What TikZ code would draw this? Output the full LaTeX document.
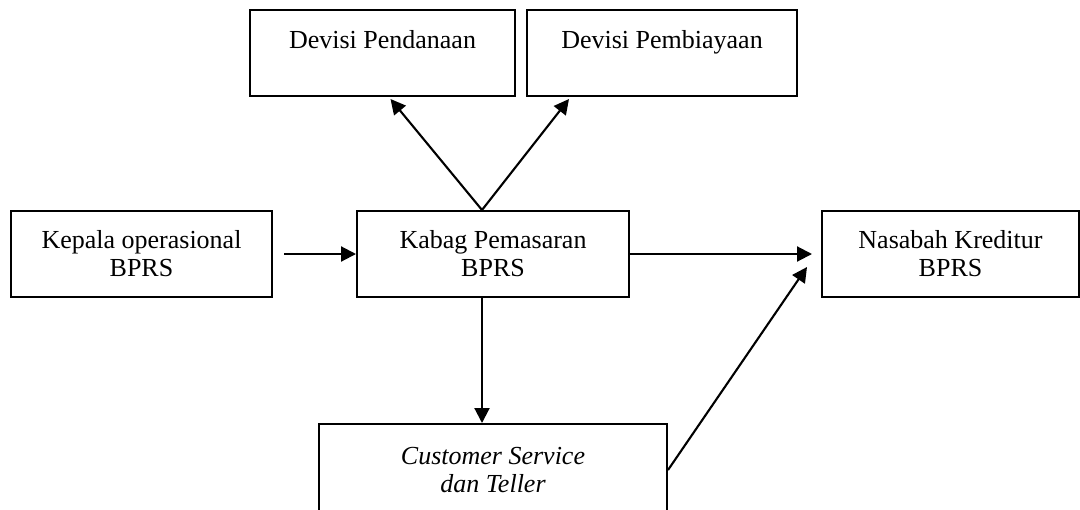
\documentclass[tikz,border=0pt]{standalone}
\usepackage{fontspec}
\setmainfont{Liberation Serif}
\usetikzlibrary{calc}
\usetikzlibrary{arrows.meta}

\begin{document}
\begin{tikzpicture}[x=0.5pt, y=-0.5pt,
        box/.style={draw, line width=1pt, align=center, inner sep=0pt,
            minimum height=43pt, font=\fontsize{13}{14}\selectfont},
        link/.style={line width=1.05pt, -{Triangle[length=7.5pt,width=7.5pt]}}]
        \useasboundingbox (0,0) rectangle (1080,509);
        \clip (0,0) rectangle (1080,509);
        % boxes
        \node[box, minimum width=132.5pt] (pendanaan)  at (382.5,53) {Devisi Pendanaan\\\mbox{}};
        \node[box, minimum width=135pt]   (pembiayaan) at (662,53)   {Devisi Pembiayaan\\\mbox{}};
        \node[box, minimum width=130.5pt] (kepala)     at (141.5,254) {Kepala operasional\\BPRS};
        \node[box, minimum width=136pt]   (kabag)      at (493,254)  {Kabag Pemasaran\\BPRS};
        \node[box, minimum width=128.5pt] (nasabah)    at (950.5,254) {Nasabah Kreditur\\BPRS};
        \node[box, minimum width=174pt, minimum height=46pt, font=\fontsize{13}{14}\selectfont\itshape]
            (cs) at (493,470) {Customer Service\\dan Teller};
        % arrows
        \draw[link, shorten <=5.5pt] (kepala.east) -- (kabag.west);
        \draw[link, shorten >=4.5pt] (kabag.east) -- (nasabah.west);
        \draw[link] ($(kabag.north)+(-11,0)$) -- ($(pendanaan.south)+(8,2)$);
        \draw[link] ($(kabag.north)+(-11,0)$) -- ($(pembiayaan.south west)+(43,2)$);
        \draw[link] ($(kabag.south)+(-11,0)$) -- ($(cs.north)+(-11,0)$);
        \draw[link] (cs.east) -- ($(nasabah.west)+(-14,13)$);
\end{tikzpicture}
\end{document}
